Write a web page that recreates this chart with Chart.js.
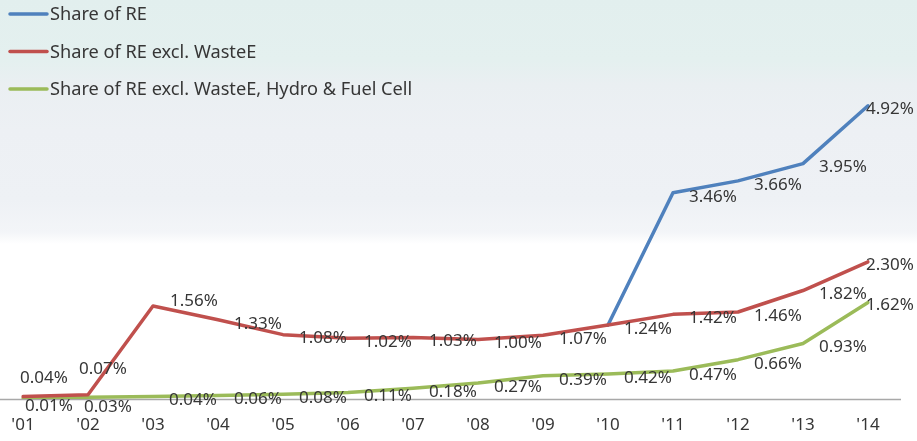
<!DOCTYPE html>
<html>
<head>
<meta charset="utf-8">
<script src="https://cdn.jsdelivr.net/npm/chart.js@4.4.1/dist/chart.umd.min.js"></script>
<style>
  html, body { margin: 0; padding: 0; width: 917px; height: 441px; overflow: hidden; }
  body {
    background: linear-gradient(to bottom,
      #e2efee 0px, #e4f0ef 60px, #eaeff2 85px, #edf0f4 130px,
      #eef1f5 200px, #f3f5f8 232px, #ffffff 244px, #ffffff 441px);
  }
  #wrap { position: relative; width: 917px; height: 441px; }
  canvas { display: block; }
</style>
</head>
<body>
<div id="wrap"><canvas id="chart" width="917" height="441"></canvas></div>
<script>
// Years on the x axis
const years = ["'01", "'02", "'03", "'04", "'05", "'06", "'07", "'08", "'09", "'10", "'11", "'12", "'13", "'14"];

// Share of renewable energy (%) — follows the "excl. WasteE" series until '10
const shareRE = [null, null, null, null, null, null, null, null, null, 1.24, 3.46, 3.66, 3.95, 4.92];

// Share of renewable energy excluding waste energy (%)
const shareExclWaste = [0.04, 0.07, 1.56, 1.33, 1.08, 1.02, 1.03, 1.00, 1.07, 1.24, 1.42, 1.46, 1.82, 2.30];

// Share excluding waste energy, hydro and fuel cells (%)
const shareExclWasteHydroFC = [0.01, 0.03, 0.04, 0.06, 0.08, 0.11, 0.18, 0.27, 0.39, 0.42, 0.47, 0.66, 0.93, 1.62];

const seriesNames = [
  "Share of RE",
  "Share of RE excl. WasteE",
  "Share of RE excl. WasteE, Hydro & Fuel Cell"
];

const COLORS = ["#4f81bd", "#c0504d", "#9bbb59"];
const FONT = "'Noto Sans', 'DejaVu Sans', sans-serif";
const TEXT = "#363636";

// Value-label placement: offsets from the point, in pixels
const labelOffset = { dx: 40, dy: 4 };
const lastLabelOffset = { dx: 22, dy: 3 };
const specialOffsets = {
  1: { 0: { dx: 21, dy: -18 }, 1: { dx: 15, dy: -26 }, 2: { dx: 41, dy: -5 } },
  2: { 0: { dx: 26, dy: 8 }, 1: { dx: 20, dy: 10 } }
};

const baseLine = {
  id: 'baseLine',
  beforeDatasetsDraw(chart) {
    const { ctx, scales: { y } } = chart;
    const py = Math.round(y.getPixelForValue(0)) + 0.5;
    ctx.save();
    ctx.strokeStyle = '#a8a8a8';
    ctx.lineWidth = 1.5;
    ctx.beginPath();
    ctx.moveTo(0, py);
    ctx.lineTo(901, py);
    ctx.stroke();
    ctx.restore();
  }
};

const valueLabels = {
  id: 'valueLabels',
  afterDatasetsDraw(chart) {
    const { ctx } = chart;
    ctx.save();
    ctx.font = `17px ${FONT}`;
    ctx.fillStyle = TEXT;
    ctx.textAlign = 'center';
    ctx.textBaseline = 'middle';
    chart.data.datasets.forEach((ds, di) => {
      const meta = chart.getDatasetMeta(di);
      ds.data.forEach((v, i) => {
        if (v === null) return;
        // the RE series shares its first point with the excl. WasteE series
        if (di === 0 && shareExclWaste[i] === v) return;
        const pt = meta.data[i];
        let off = labelOffset;
        if (i === ds.data.length - 1) off = lastLabelOffset;
        if (specialOffsets[di] && specialOffsets[di][i]) off = specialOffsets[di][i];
        ctx.fillText(v.toFixed(2) + '%', pt.x + off.dx, pt.y + off.dy);
      });
    });
    ctx.restore();
  }
};

const lineLegend = {
  id: 'lineLegend',
  afterDraw(chart) {
    const { ctx } = chart;
    ctx.save();
    ctx.font = `18.2px ${FONT}`;
    ctx.textBaseline = 'middle';
    ctx.textAlign = 'left';
    seriesNames.forEach((name, i) => {
      const y = 14 + i * 37.5;
      ctx.strokeStyle = COLORS[i];
      ctx.lineWidth = 3.5;
      ctx.lineCap = 'round';
      ctx.beginPath();
      ctx.moveTo(10, y);
      ctx.lineTo(47, y);
      ctx.stroke();
      ctx.fillStyle = TEXT;
      ctx.fillText(name, 50, y + 1);
    });
    ctx.restore();
  }
};

const lineStyle = {
  borderWidth: 3.5,
  pointRadius: 0,
  pointHoverRadius: 0,
  fill: false,
  tension: 0,
  borderJoinStyle: 'round',
  borderCapStyle: 'round',
  spanGaps: false
};

new Chart(document.getElementById('chart'), {
  type: 'line',
  data: {
    labels: years,
    datasets: [
      { label: seriesNames[0], data: shareRE, borderColor: COLORS[0], order: 1, ...lineStyle },
      { label: seriesNames[1], data: shareExclWaste, borderColor: COLORS[1], order: 0, ...lineStyle },
      { label: seriesNames[2], data: shareExclWasteHydroFC, borderColor: COLORS[2], order: 2, ...lineStyle }
    ]
  },
  options: {
    responsive: false,
    animation: false,
    devicePixelRatio: 1,
    layout: { padding: { left: 23, right: 49, top: 101, bottom: 0 } },
    plugins: {
      legend: { display: false },
      tooltip: { enabled: false }
    },
    scales: {
      x: {
        offset: false,
        grid: { display: false, drawTicks: false },
        border: { display: false },
        ticks: {
          color: TEXT,
          font: { family: FONT, size: 17 },
          padding: 16,
          maxRotation: 0,
          autoSkip: false
        },
        afterFit(axis) {
          axis.height = 42;
          axis.paddingLeft = 0;
          axis.paddingRight = 0;
        }
      },
      y: {
        display: false,
        min: 0,
        max: 5
      }
    }
  },
  plugins: [baseLine, valueLabels, lineLegend]
});
</script>
</body>
</html>
